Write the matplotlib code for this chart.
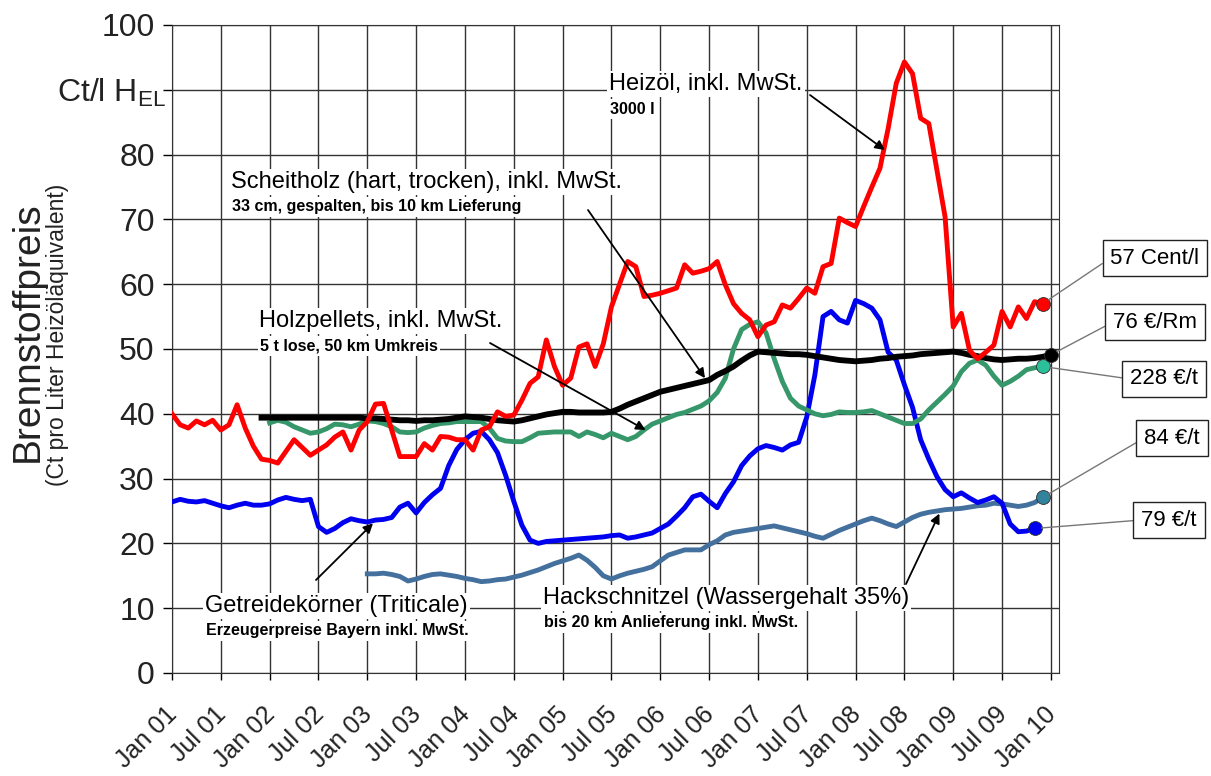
import numpy as np
import matplotlib.pyplot as plt
from matplotlib.transforms import ScaledTranslation

plt.rcParams['font.family'] = ['Liberation Sans', 'DejaVu Sans']
plt.rcParams['mathtext.default'] = 'regular'

# monthly prices, month 0 = Jan 2001 (ct per litre heating-oil equivalent)
heizoel_start = 0
heizoel = [40.0, 38.3, 37.8, 38.9, 38.3, 39.0, 37.5, 38.3, 41.4, 37.8, 35.0, 33.0,
           32.8, 32.4, 34.2, 36.0, 34.8, 33.6, 34.4, 35.2, 36.4, 37.2, 34.4, 37.5,
           38.8, 41.5, 41.6, 37.5, 33.4, 33.4, 33.4, 35.4, 34.4, 36.5, 36.4, 36.0,
           36.0, 34.4, 37.5, 38.0, 40.3, 39.6, 39.8, 42.1, 44.7, 45.7, 51.4, 47.3,
           44.4, 45.5, 50.3, 50.8, 47.3, 50.8, 56.5, 60.0, 63.5, 62.7, 58.1, 58.3,
           58.6, 59.0, 59.4, 63.0, 61.7, 62.0, 62.4, 63.5, 59.9, 57.0, 55.5, 54.5,
           51.9, 53.7, 54.2, 56.8, 56.3, 57.8, 59.4, 58.6, 62.7, 63.2, 70.2, 69.5,
           68.9, 72.0, 75.0, 77.9, 84.0, 91.0, 94.3, 92.5, 85.6, 84.8, 77.6, 70.4,
           53.4, 55.5, 49.8, 48.5, 49.5, 50.6, 55.8, 53.4, 56.5, 54.7, 57.3, 57.0]

getreide_start = 0
getreide = [26.4, 26.8, 26.5, 26.4, 26.6, 26.2, 25.8, 25.5, 25.9, 26.2, 25.9, 25.9,
            26.1, 26.7, 27.1, 26.8, 26.6, 26.8, 22.6, 21.7, 22.3, 23.2, 23.8, 23.5,
            23.3, 23.6, 23.7, 24.0, 25.6, 26.2, 24.7, 26.3, 27.5, 28.5, 32.0, 34.5,
            36.0, 37.0, 37.3, 36.0, 34.0, 30.5, 26.5, 22.8, 20.5, 20.0, 20.3, 20.4,
            20.5, 20.6, 20.7, 20.8, 20.9, 21.0, 21.2, 21.3, 20.8, 21.0, 21.3, 21.6,
            22.3, 23.0, 24.2, 25.5, 27.2, 27.6, 26.5, 25.5, 27.7, 29.5, 32.0, 33.5,
            34.6, 35.1, 34.8, 34.4, 35.2, 35.6, 39.5, 46.0, 55.0, 55.8, 54.5, 54.0,
            57.5, 57.0, 56.3, 54.5, 49.5, 48.3, 44.5, 41.0, 36.0, 33.0, 30.3, 28.3,
            27.2, 27.8, 27.0, 26.3, 26.7, 27.2, 26.2, 23.0, 21.8, 21.9, 22.3]

pellets_start = 12
pellets = [38.6, 39.0, 38.7, 38.0, 37.5, 37.0, 37.2, 37.7, 38.4, 38.3, 38.0, 38.4,
           38.9, 38.8, 38.5, 38.0, 37.2, 37.1, 37.2, 37.8, 38.2, 38.5, 38.6, 38.8,
           38.8, 38.8, 38.8, 37.8, 36.2, 35.8, 35.7, 35.7, 36.3, 37.0, 37.1, 37.2,
           37.2, 37.2, 36.5, 37.2, 36.8, 36.3, 37.0, 36.5, 36.0, 36.5, 37.5, 38.4,
           38.9, 39.4, 39.9, 40.2, 40.7, 41.2, 42.0, 43.3, 45.5, 50.0, 53.0, 53.8,
           54.2, 52.5, 48.5, 45.0, 42.4, 41.2, 40.6, 40.0, 39.7, 39.9, 40.3, 40.2,
           40.2, 40.3, 40.5, 40.0, 39.5, 39.0, 38.5, 38.5, 39.2, 40.6, 41.8, 43.0,
           44.3, 46.5, 47.8, 48.3, 47.5, 45.8, 44.4, 45.0, 45.8, 46.8, 47.1, 47.3]

scheitholz_start = 11
scheitholz = [39.4, 39.4, 39.4, 39.4, 39.4, 39.4, 39.4, 39.4, 39.4, 39.4, 39.4, 39.4,
              39.4, 39.3, 39.3, 39.2, 39.1, 39.0, 39.0, 38.9, 39.0, 39.0, 39.1, 39.2,
              39.4, 39.6, 39.5, 39.4, 39.2, 39.0, 38.9, 38.8, 39.0, 39.3, 39.6, 39.9,
              40.1, 40.3, 40.3, 40.2, 40.2, 40.2, 40.2, 40.3, 40.8, 41.4, 41.9, 42.4,
              42.9, 43.4, 43.7, 44.0, 44.3, 44.6, 44.9, 45.2, 46.0, 46.6, 47.3, 48.2,
              49.0, 49.6, 49.5, 49.4, 49.3, 49.2, 49.2, 49.1, 48.9, 48.7, 48.5, 48.3,
              48.2, 48.1, 48.2, 48.3, 48.5, 48.6, 48.8, 48.9, 49.0, 49.2, 49.3, 49.4,
              49.5, 49.6, 49.4, 49.1, 48.9, 48.6, 48.4, 48.3, 48.4, 48.5, 48.5, 48.6,
              48.8, 49.1]

hackschnitzel_start = 24
hackschnitzel = [15.3, 15.3, 15.4, 15.2, 14.9, 14.2, 14.5, 14.9, 15.2, 15.3, 15.1, 14.9,
                 14.6, 14.4, 14.1, 14.2, 14.4, 14.5, 14.8, 15.1, 15.5, 15.9, 16.4, 16.9,
                 17.3, 17.7, 18.2, 17.4, 16.3, 15.0, 14.5, 15.0, 15.4, 15.7, 16.0, 16.4,
                 17.3, 18.2, 18.6, 19.0, 19.0, 19.0, 19.8, 20.4, 21.3, 21.7, 21.9, 22.1,
                 22.3, 22.5, 22.7, 22.4, 22.1, 21.8, 21.5, 21.1, 20.8, 21.4, 22.0, 22.5,
                 23.0, 23.5, 23.9, 23.5, 23.0, 22.6, 23.3, 24.0, 24.5, 24.8, 25.0, 25.2,
                 25.3, 25.4, 25.6, 25.8, 25.9, 26.2, 26.1, 25.9, 25.7, 25.9, 26.3, 27.1]

tick_labels = ['Jan 01', 'Jul 01', 'Jan 02', 'Jul 02', 'Jan 03', 'Jul 03', 'Jan 04',
               'Jul 04', 'Jan 05', 'Jul 05', 'Jan 06', 'Jul 06', 'Jan 07', 'Jul 07',
               'Jan 08', 'Jul 08', 'Jan 09', 'Jul 09', 'Jan 10']

end_labels = ['57 Cent/l', '76 €/Rm', '228 €/t', '84 €/t', '79 €/t']

# series: values, first month, line colour, end-dot colour, line width
series = [
    (hackschnitzel, hackschnitzel_start, '#44709e', '#31849b', 3.5),
    (getreide, getreide_start, '#0000f0', '#0000f0', 3.5),
    (pellets, pellets_start, '#36976a', '#2bbf9a', 3.5),
    (scheitholz, scheitholz_start, '#000000', '#000000', 4.2),
    (heizoel, heizoel_start, '#ff0000', '#ff0000', 3.5),
]

fig = plt.figure(figsize=(12.11, 7.76), dpi=100)
ax = fig.add_axes([172 / 1211, 1 - 673 / 776, (1059 - 172) / 1211, (673 - 25) / 776])

ends = {}
for vals, start, col, dotcol, lw in series:
    x = np.arange(start, start + len(vals))
    ax.plot(x, vals, color=col, lw=lw, solid_joinstyle='round', zorder=3)
    ax.plot(x[-1], vals[-1], 'o', ms=10, color=dotcol, mec='#303030', mew=0.6, zorder=5)
    ends[col] = (x[-1], vals[-1])

ax.set_xlim(0, 109)
ax.set_ylim(0, 100)
ax.tick_params(axis='y', direction='out', length=6.5, width=1, pad=6)
ax.tick_params(axis='x', direction='out', length=5, width=1, pad=16)
ax.set_xticks(np.arange(0, 109, 6))
ax.set_xticklabels(tick_labels, rotation=45, ha='right', va='top', fontsize=18,
                   color='#222222')
ax.set_yticks(np.arange(0, 101, 10))
ylabels = [str(v) for v in range(0, 101, 10)]
ylabels[9] = 'Ct/l H$_{EL}$'
ax.set_yticklabels(ylabels, fontsize=23, color='#222222')

# nudge the slanted month labels to the right, and the unit label too
shift = ScaledTranslation(10 / 100, 0, fig.dpi_scale_trans)
for t in ax.get_xticklabels():
    t.set_transform(t.get_transform() + shift)
unit_label = ax.get_yticklabels()[9]
unit_label.set_transform(unit_label.get_transform() +
                         ScaledTranslation(11 / 100, 0, fig.dpi_scale_trans))

ax.grid(True, color='#333333', lw=1)
for s in ax.spines.values():
    s.set_color('#333333')
ax.set_axisbelow(True)

fig.text(28 / 1211, 1 - 332 / 776, 'Brennstoffpreis', rotation=90, fontsize=28,
         ha='center', va='center', color='#222222')
fig.text(58 / 1211, 1 - 335 / 776, '(Ct pro Liter Heizöläquivalent)', rotation=90,
         fontsize=16.5, ha='center', va='center', color='#222222')

white = dict(fc='white', ec='none', pad=1.5)
arrow = dict(arrowstyle='-|>', color='black', lw=1.3, mutation_scale=14, shrinkA=0, shrinkB=0)


def label(title, sub, left, cy, tail, head):
    ax.annotate(title, xy=head, xycoords='data', xytext=(left, 776 - cy),
                textcoords='figure pixels', ha='left', va='center', fontsize=17,
                bbox=white, zorder=6)
    ax.annotate(sub, xy=(left + 1, 776 - cy - 25), xycoords='figure pixels', ha='left',
                va='center', fontsize=11.5, fontweight='bold', bbox=white, zorder=6)
    ax.annotate('', xy=head, xycoords='data', xytext=(tail[0], 776 - tail[1]),
                textcoords='figure pixels', arrowprops=arrow, zorder=7)


label('Heizöl, inkl. MwSt.', '3000 l', 609, 84, (810, 95), (87.6, 80.7))
label('Scheitholz (hart, trocken), inkl. MwSt.', '33 cm, gespalten, bis 10 km Lieferung',
      231, 182, (588, 210), (65.5, 45.5))
label('Holzpellets, inkl. MwSt.', '5 t lose, 50 km Umkreis', 259, 321, (490, 343), (58.2, 37.5))
label('Getreidekörner (Triticale)', 'Erzeugerpreise Bayern inkl. MwSt.', 205, 606,
      (316, 580), (24.7, 23.1))
label('Hackschnitzel (Wassergehalt 35%)', 'bis 20 km Anlieferung inkl. MwSt.', 543, 598,
      (906, 584), (94.3, 24.6))

# end-of-series price boxes
box_pos = [(1155, 258), (1155, 322), (1164, 379), (1172, 438), (1169, 520)]
box_cols = ['#ff0000', '#000000', '#36976a', '#44709e', '#0000f0']
for text, (bx, by), col in zip(end_labels, box_pos, box_cols):
    ax.annotate(text, xy=ends[col], xycoords='data', xytext=(bx, 776 - by),
                textcoords='figure pixels', ha='center', va='center', fontsize=16,
                bbox=dict(boxstyle='square,pad=0.35', fc='white', ec='#222222', lw=1),
                arrowprops=dict(arrowstyle='-', color='#777777', lw=1, relpos=(0, 0.5),
                                shrinkA=0, shrinkB=5),
                annotation_clip=False, zorder=6)

fig.savefig('out.png', dpi=100)
